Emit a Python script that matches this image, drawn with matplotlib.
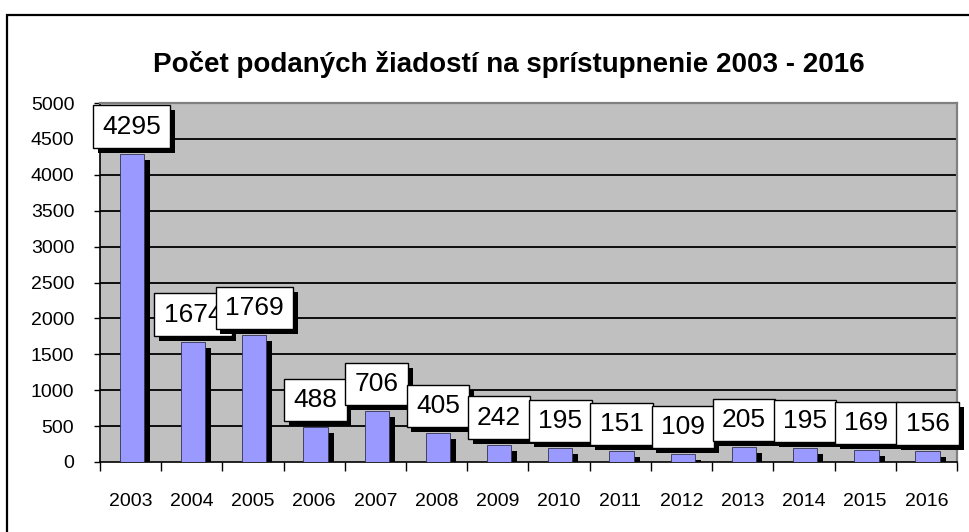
import matplotlib
matplotlib.use("Agg")
import matplotlib.pyplot as plt
import matplotlib.transforms as mtransforms
import matplotlib.patheffects as pe
from matplotlib.patches import Rectangle
import numpy as np

plt.rcParams['font.family'] = ['Liberation Sans', 'DejaVu Sans']

years = ['2003', '2004', '2005', '2006', '2007', '2008', '2009',
         '2010', '2011', '2012', '2013', '2014', '2015', '2016']
requests = [4295, 1674, 1769, 488, 706, 405, 242, 195, 151, 109, 205, 195, 169, 156]
title = 'Počet podaných žiadostí na sprístupnenie 2003 - 2016'

fig = plt.figure(figsize=(9.7, 5.32), dpi=100)
ax = fig.add_axes([100/970, 1 - 462/532, 857/970, 359/532])

x = np.arange(len(years))

# shadow bars (shifted right/down a few pixels)
shift = mtransforms.ScaledTranslation(6/100, -6/100, fig.dpi_scale_trans)
shadows = ax.bar(x + 0.02, requests, width=0.397, color='black', zorder=2)
for p in shadows:
    p.set_transform(ax.transData + shift)

ax.bar(x + 0.02, requests, width=0.397, color='#9999FF', edgecolor='#303050',
       linewidth=0.6, zorder=3)

ax.set_xlim(-0.5, len(years) - 0.5)
ax.set_ylim(0, 5000)
ax.set_facecolor('#C0C0C0')

ax.set_yticks(np.arange(0, 5001, 500))
for yv in range(500, 5000, 500):
    ax.axhline(yv, color='black', lw=1.3, zorder=1)

ax.set_xticks(x)
ax.set_xticklabels(years)
ax.set_xticks(np.arange(-0.5, len(years), 1), minor=True)
ax.tick_params(axis='x', which='major', length=0, pad=22, labelsize=14)
ax.tick_params(axis='x', which='minor', length=6.5, width=1, direction='out')
ax.tick_params(axis='y', length=4.5, width=1, pad=14, labelsize=14)

for s in ['left', 'bottom']:
    ax.spines[s].set_color('black')
    ax.spines[s].set_linewidth(1.2)
for s in ['top', 'right']:
    ax.spines[s].set_color('#808080')
    ax.spines[s].set_linewidth(1.6)

# data labels, white boxes with a black drop shadow
for i, v in enumerate(requests):
    t = ax.annotate(str(v), (x[i] + 0.02, v), xytext=(0, 19.5), textcoords='offset points',
                    ha='center', va='center', fontsize=19, color='black',
                    bbox=dict(boxstyle='square,pad=0.35', fc='white', ec='black', lw=1),
                    zorder=10 + i, annotation_clip=False)
    t.get_bbox_patch().set_path_effects([
        pe.SimplePatchShadow(offset=(3.4, -3.6), shadow_rgbFace='black', alpha=1.0),
        pe.Normal()])

fig.text(509/970, 1 - 64/532, title, ha='center', va='center',
         fontsize=20, fontweight='bold')

# outer chart border (chart is cropped at right and bottom)
fig.add_artist(Rectangle((7.5/970, -0.1), 1.2, 1 - 15/532 + 0.1,
                         transform=fig.transFigure, fill=False,
                         edgecolor='black', linewidth=1.6))

fig.savefig('out.png', dpi=100)
